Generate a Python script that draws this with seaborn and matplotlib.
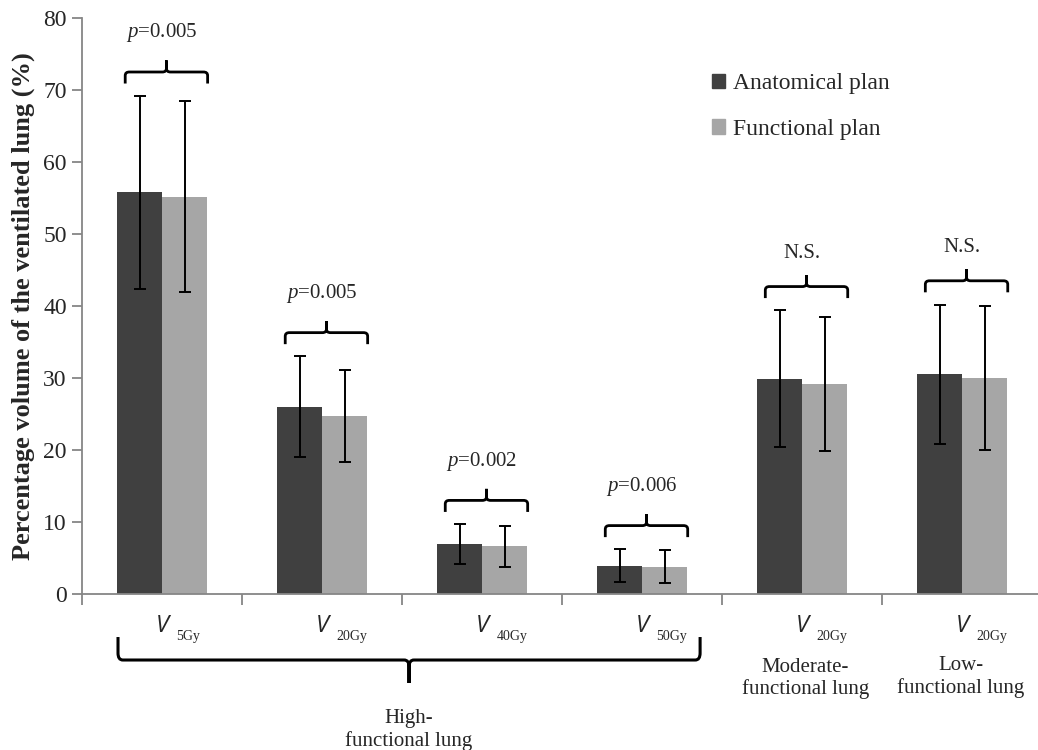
import numpy as np
import pandas as pd
import matplotlib
matplotlib.use("Agg")
import matplotlib.pyplot as plt
import seaborn as sns
from matplotlib.path import Path
from matplotlib.patches import PathPatch, Patch

# ---------------- data ----------------
categories = ["V5Gy high", "V20Gy high", "V40Gy high", "V50Gy high", "V20Gy moderate", "V20Gy low"]
dose_labels = ["5Gy", "20Gy", "40Gy", "50Gy", "20Gy", "20Gy"]
plans = ["Anatomical plan", "Functional plan"]
anatomical_mean = [55.8, 26.0, 6.9, 3.9, 29.9, 30.5]
anatomical_sd = [13.4, 7.0, 2.8, 2.3, 9.5, 9.7]
functional_mean = [55.2, 24.7, 6.6, 3.8, 29.2, 30.0]
functional_sd = [13.3, 6.4, 2.8, 2.3, 9.3, 10.0]
p_labels = ["p=0.005", "p=0.005", "p=0.002", "p=0.006", "N.S.", "N.S."]
y_ticks = [0, 10, 20, 30, 40, 50, 60, 70, 80]
group_labels = ["High-\nfunctional lung", "Moderate-\nfunctional lung", "Low-\nfunctional lung"]

df = pd.DataFrame({
    "category": categories * 2,
    "plan": [plans[0]] * 6 + [plans[1]] * 6,
    "value": anatomical_mean + functional_mean,
})
sds = {plans[0]: anatomical_sd, plans[1]: functional_sd}

dark = "#404040"
light = "#a6a6a6"
spine_col = "#868686"

sns.set_style("white")
plt.rcParams["font.family"] = ["Liberation Serif", "DejaVu Serif"]
plt.rcParams["mathtext.fontset"] = "custom"
plt.rcParams["mathtext.rm"] = "Liberation Serif"
plt.rcParams["mathtext.it"] = "Liberation Serif:italic"

fig = plt.figure(figsize=(10.38, 7.5), dpi=100)
ax = fig.add_axes([0.079, 0.208, 0.925, 0.768])

sns.barplot(data=df, x="category", y="value", hue="plan", order=categories,
            hue_order=plans, palette=[dark, light], width=0.5625, errorbar=None,
            saturation=1, legend=False, linewidth=0, ax=ax)

for cont, plan in zip(ax.containers, plans):
    xs = [b.get_x() + b.get_width() / 2 for b in cont]
    hs = [b.get_height() for b in cont]
    ax.errorbar(xs, hs, yerr=sds[plan], fmt="none", ecolor="black",
                elinewidth=1.4, capsize=4, capthick=1.4, zorder=5)

ax.set_xlim(-0.5, len(categories) - 0.5)
ax.set_ylim(0, 80)
ax.set_yticks(y_ticks)
ax.set_yticklabels([str(t) for t in y_ticks], fontsize=17)
ax.set_xticks(np.arange(-0.5, len(categories), 1.0))
ax.set_xticklabels([])
ax.set_xlabel("")
ax.set_ylabel("Percentage volume of the ventilated lung (%)", fontsize=19,
              fontweight="bold", labelpad=6)

for s in ["top", "right"]:
    ax.spines[s].set_visible(False)
for s in ["left", "bottom"]:
    ax.spines[s].set_color(spine_col)
    ax.spines[s].set_linewidth(1.3)
ax.tick_params(axis="y", direction="out", length=7, width=1.3, color=spine_col,
               pad=4, left=True)
ax.tick_params(axis="x", direction="out", length=8, width=1.3, color=spine_col,
               bottom=True)


def brace(ax, x0, x1, y_line, y_end, y_tip, rx, ry, transform, lw=2.0):
    xc = (x0 + x1) / 2
    d = 1 if y_line > y_end else -1
    t = 1 if y_tip > y_line else -1
    verts = [
        (x0, y_end), (x0, y_line - d * ry),
        (x0, y_line), (x0 + rx, y_line),
        (xc - rx, y_line),
        (xc, y_line), (xc, y_line + t * ry),
        (xc, y_tip),
        (xc, y_tip), (xc, y_line + t * ry),
        (xc, y_line), (xc + rx, y_line),
        (x1 - rx, y_line),
        (x1, y_line), (x1, y_line - d * ry),
        (x1, y_end),
    ]
    codes = [Path.MOVETO, Path.LINETO,
             Path.CURVE3, Path.CURVE3,
             Path.LINETO,
             Path.CURVE3, Path.CURVE3,
             Path.LINETO,
             Path.MOVETO, Path.LINETO,
             Path.CURVE3, Path.CURVE3,
             Path.LINETO,
             Path.CURVE3, Path.CURVE3,
             Path.LINETO]
    ax.add_patch(PathPatch(Path(verts, codes), fill=False, lw=lw, color="black",
                           transform=transform, clip_on=False, capstyle="butt"))


# significance braces
for i, lab in enumerate(p_labels):
    top = max(anatomical_mean[i] + anatomical_sd[i], functional_mean[i] + functional_sd[i])
    y_line = top + 3.3
    brace(ax, i - 0.23, i + 0.285, y_line, y_line - 1.6, y_line + 1.6, 0.025, 0.5,
          ax.transData)
    if lab.startswith("p="):
        txt = r"$\it{p}$" + lab[1:]
        off = 4.8
    else:
        txt = lab
        off = 4.0
    ax.text(i + 0.0, y_line + off, txt, ha="center", va="baseline", fontsize=15,
            clip_on=False)

# x labels: V with subscript
xt = ax.get_xaxis_transform()
for i, d in enumerate(dose_labels):
    ax.text(i, -0.056, "V", ha="center", va="center", fontsize=17,
            family=["Open Sans", "DejaVu Sans"], style="italic", transform=xt,
            clip_on=False)
    ax.text(i + 0.09, -0.074, d, ha="left", va="center", fontsize=10,
            transform=xt, clip_on=False)

# bottom brace for high-functional lung group
brace(ax, -0.275, 3.3625, -0.1146, -0.0747, -0.1545, 0.03, 0.012, xt, lw=2.2)

ax.text(1.54, -0.236, group_labels[0], ha="center", va="center", fontsize=15,
        linespacing=1.2, transform=xt, clip_on=False)
ax.text(4.02, -0.146, group_labels[1], ha="center", va="center", fontsize=15,
        linespacing=1.15, transform=xt, clip_on=False)
ax.text(4.99, -0.144, group_labels[2], ha="center", va="center", fontsize=15,
        linespacing=1.15, transform=xt, clip_on=False)

handles = [Patch(facecolor=dark, edgecolor=dark), Patch(facecolor=light, edgecolor=light)]
ax.legend(handles, plans, loc="upper left", bbox_to_anchor=(712 / 1038, 1 - 73 / 750),
          bbox_transform=fig.transFigure, frameon=False, fontsize=17,
          handlelength=0.55, handleheight=0.55, handletextpad=0.35,
          labelspacing=1.05, borderpad=0, borderaxespad=0)

fig.savefig("out.png", dpi=100)
